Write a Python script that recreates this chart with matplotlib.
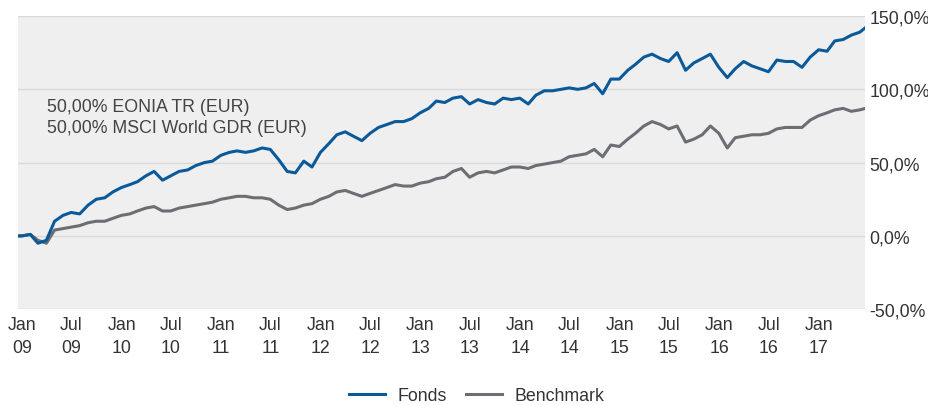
import matplotlib.pyplot as plt
import pandas as pd

plt.rcParams['font.family'] = ['Liberation Sans', 'DejaVu Sans']

# month-end dates, Dec 2008 .. May 2017, plus the last day shown
dates = pd.to_datetime(['2008-12-17']).append(
    pd.date_range('2008-12-31', periods=102, freq='ME')).append(
    pd.to_datetime(['2017-06-20']))

fonds = [0,
         0, 1, -5, -3, 10, 14, 16, 15, 21, 25, 26, 30,
         33, 35, 37, 41, 44, 38, 41, 44, 45, 48, 50, 51,
         55, 57, 58, 57, 58, 60, 59, 52, 44, 43, 51, 47,
         57, 63, 69, 71, 68, 65, 70, 74, 76, 78, 78, 80,
         84, 87, 92, 91, 94, 95, 90, 93, 91, 90, 94, 93,
         94, 90, 96, 99, 99, 100, 101, 100, 101, 104, 97, 107,
         107, 113, 117, 122, 124, 121, 119, 125, 113, 118, 121, 124,
         115, 108, 114, 119, 116, 114, 112, 120, 119, 119, 115, 122,
         127, 126, 133, 134, 137, 139,
         142]

benchmark = [0,
             0, 1, -3, -5, 4, 5, 6, 7, 9, 10, 10, 12,
             14, 15, 17, 19, 20, 17, 17, 19, 20, 21, 22, 23,
             25, 26, 27, 27, 26, 26, 25, 21, 18, 19, 21, 22,
             25, 27, 30, 31, 29, 27, 29, 31, 33, 35, 34, 34,
             36, 37, 39, 40, 44, 46, 40, 43, 44, 43, 45, 47,
             47, 46, 48, 49, 50, 51, 54, 55, 56, 59, 54, 62,
             61, 66, 70, 75, 78, 76, 73, 75, 64, 66, 69, 75,
             70, 60, 67, 68, 69, 69, 70, 73, 74, 74, 74, 79,
             82, 84, 86, 87, 85, 86,
             87]

y_ticks = [-50, 0, 50, 100, 150]
tick_dates = pd.date_range('2009-01-01', '2017-01-01', freq='6MS')

fig = plt.figure(figsize=(9.29, 4.06), dpi=100)
ax = fig.add_axes([0.0194, 0.236, 0.912, 0.722])
ax.set_facecolor('#efefef')

ax.plot(dates, benchmark, color='#6b6e72', lw=2.2, label='Benchmark', zorder=3)
ax.plot(dates, fonds, color='#0a5a9a', lw=2.2, label='Fonds', zorder=4)

ax.set_xlim(dates[0], dates[-1])
ax.set_ylim(-50, 150)

ax.yaxis.tick_right()
ax.set_yticks(y_ticks)
ax.set_yticklabels([f'{v:.1f}%'.replace('.', ',') for v in y_ticks])
ax.set_xticks(tick_dates)
ax.set_xticklabels([d.strftime('%b\n%y') for d in tick_dates], linespacing=1.45)
ax.tick_params(length=0, labelsize=12.8, colors='#333333')
ax.tick_params(axis='y', pad=3)
ax.tick_params(axis='x', pad=5)
ax.grid(axis='y', color='#dadada', lw=1)
ax.set_axisbelow(True)
for s in ax.spines.values():
    s.set_visible(False)

ax.text(0.034, 0.655, '50,00% EONIA TR (EUR)\n50,00% MSCI World GDR (EUR)',
        transform=ax.transAxes, fontsize=12.8, color='#444444',
        linespacing=1.3, va='center', ha='left')

h, l = ax.get_legend_handles_labels()
fig.legend(h[::-1], l[::-1], loc='center', bbox_to_anchor=(0.513, 0.024),
           ncol=2, frameon=False, fontsize=12.8, handlelength=2.0,
           handletextpad=0.7, columnspacing=1.1, labelcolor='#333333')

fig.savefig('out.png', dpi=100)
